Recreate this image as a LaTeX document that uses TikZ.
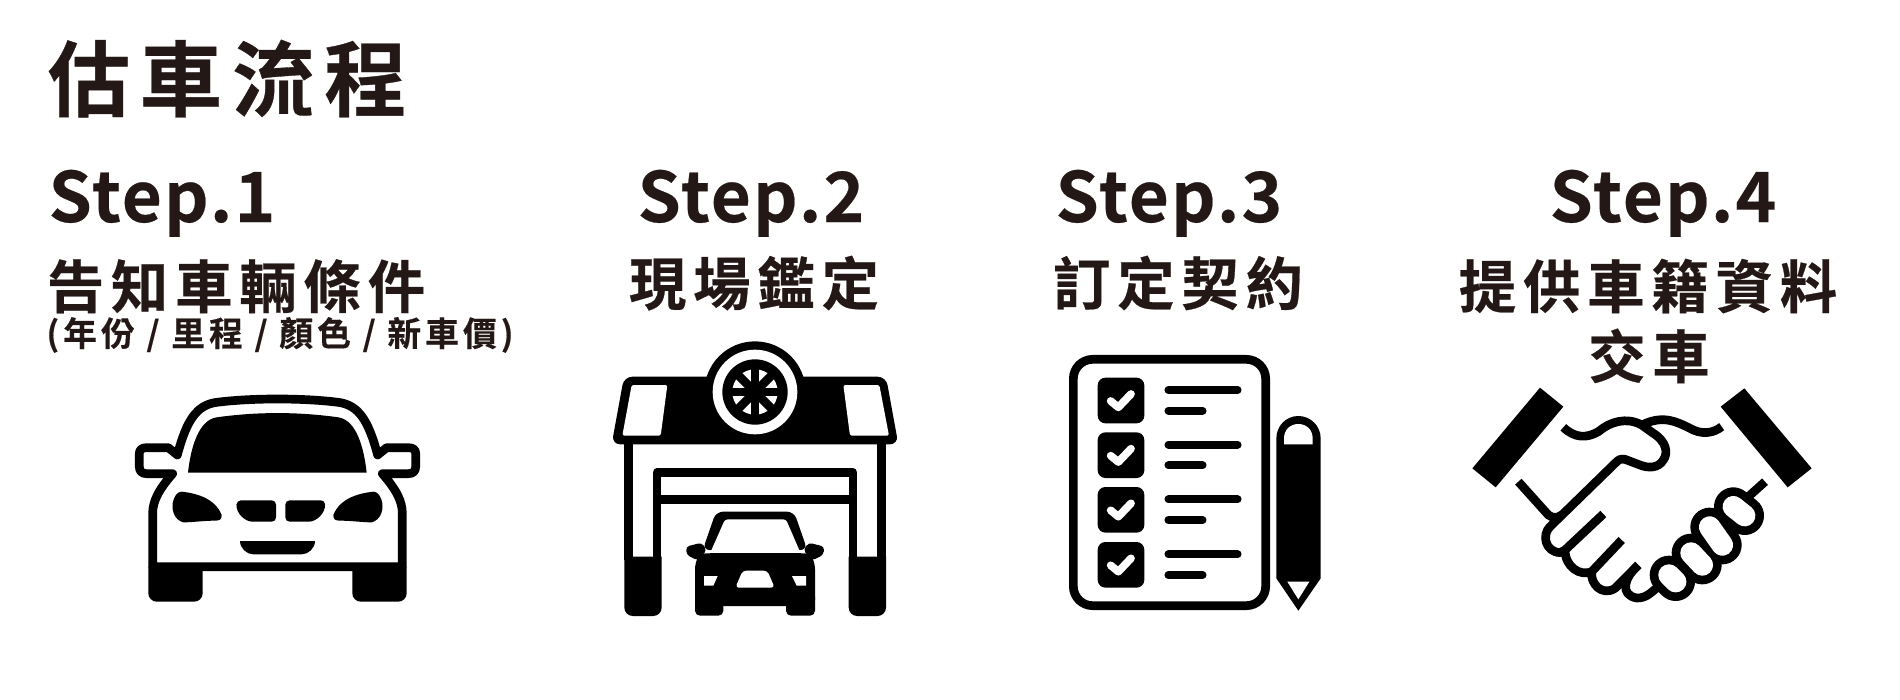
\documentclass[tikz,border=0pt]{standalone}
\usepackage{fontspec}
\usetikzlibrary{positioning}
\newfontfamily\cjkfont[LetterSpace=12,FakeBold=0.4]{Noto Sans CJK TC Bold}
\newfontfamily\latinfont[LetterSpace=3,FakeBold=0.3]{Noto Sans CJK TC Bold}
\definecolor{TextInk}{HTML}{231815}
\tikzset{
    titletext/.style={inner sep=0, anchor=base west, text=TextInk, font=\cjkfont\fontsize{23.4}{26}\selectfont},
    steptext/.style={inner sep=0, anchor=base, text=TextInk, font=\latinfont\fontsize{19.7}{24}\selectfont},
    subtext/.style={inner sep=0, anchor=base, text=TextInk, font=\cjkfont\fontsize{16.3}{18}\selectfont},
    notetext/.style={inner sep=0, anchor=base, text=TextInk, font=\cjkfont\fontsize{9.6}{11}\selectfont},
    iconline/.style={line width=2.47pt, line join=round, line cap=round}
}
\begin{document}
\begin{tikzpicture}[x=0.01cm, y=-0.01cm]
    \useasboundingbox (0,0) rectangle (1900,700);
    % headings
    \node[titletext] (title) at (47,110) {估車流程};
    \node[steptext] (step1) at (162,222) {Step.1};
    \node[steptext] (step2) at (751,222) {Step.2};
    \node[steptext] (step3) at (1169,222) {Step.3};
    \node[steptext] (step4) at (1663,222) {Step.4};
    \node[subtext] (sub1) at (236,308) {告知車輛條件};
    \node[subtext] (sub2) at (754,305) {現場鑑定};
    \node[subtext] (sub3) at (1178,305) {訂定契約};
    \node[subtext] (sub4) at (1648,308) {提供車籍資料};
    \node[subtext] (sub4b) at (1649,378) {交車};
    \node[notetext] (note1) at (280,346) {(年份 / 里程 / 顏色 / 新車價)};

    % car
    \begin{scope}[shift={(100,370)}, scale=1/3]
        \draw[iconline] (532,87) .. controls (450,87) and (390,92) .. (350,97)
            .. controls (290,105) and (260,150) .. (232,255) -- (205,233) -- (140,233)
            .. controls (125,233) and (118,240) .. (118,250) -- (118,290)
            .. controls (118,303) and (125,311) .. (140,311) -- (218,311)
            .. controls (175,360) and (158,395) .. (158,430) -- (158,590) -- (907,590) -- (907,430)
            .. controls (907,395) and (890,360) .. (847,311) -- (925,311)
            .. controls (940,311) and (947,303) .. (947,290) -- (947,250)
            .. controls (947,240) and (940,233) .. (925,233) -- (860,233) -- (833,255)
            .. controls (805,150) and (775,105) .. (715,97)
            .. controls (675,92) and (615,87) .. (532,87) -- cycle;
        \fill[rounded corners=2.4pt] (308,590) -- (308,695) -- (145,695) -- (145,590);
        \fill[rounded corners=2.4pt] (920,590) -- (920,695) -- (757,695) -- (757,590);
        \fill (264,308) .. controls (272,235) and (295,150) .. (350,142)
            .. controls (470,125) and (595,125) .. (715,142)
            .. controls (770,150) and (792,235) .. (800,308) -- cycle;
        \fill (245,365) .. controls (290,370) and (345,385) .. (365,435)
            .. controls (365,448) and (360,452) .. (345,452)
            .. controls (310,452) and (280,457) .. (250,457)
            .. controls (225,450) and (215,425) .. (218,400)
            .. controls (222,378) and (232,365) .. (245,365) -- cycle;
        \fill (820,365) .. controls (775,370) and (720,385) .. (700,435)
            .. controls (700,448) and (705,452) .. (720,452)
            .. controls (755,452) and (785,457) .. (815,457)
            .. controls (840,450) and (850,425) .. (847,400)
            .. controls (843,378) and (833,365) .. (820,365) -- cycle;
        \fill[rounded corners=1.2pt] (528,391) -- (528,455) -- (470,455)
            .. controls (435,455) and (408,430) .. (410,391) -- cycle;
        \fill[rounded corners=1.2pt] (556,391) -- (556,455) -- (614,455)
            .. controls (649,455) and (676,430) .. (675,391) -- cycle;
        \fill (420,513) -- (645,513) .. controls (645,535) and (625,553) .. (605,553)
            -- (460,553) .. controls (440,553) and (420,535) .. (420,513) -- cycle;
    \end{scope}

    % garage
    \begin{scope}[shift={(590,330)}, scale=1/3]
        \fill[rounded corners=2.4pt] (102,140) -- (888,140) -- (925,343) -- (65,343) -- cycle;
        \fill[white, rounded corners=0.6pt] (125,165) -- (232,165) -- (212,317) -- (97,317) -- cycle;
        \fill[white, rounded corners=0.6pt] (760,165) -- (868,165) -- (897,317) -- (780,317) -- cycle;
        \fill (495,186) circle (152);
        \fill[white] (495,186) circle (127);
        \fill (495,186) circle (98);
        \fill[white] (495,186) circle (68);
        \begin{scope}[shift={(495,186)}]
            \foreach \a in {0,45,90,135}
                \draw[line width=2.5pt] (\a:80) -- (\a+180:80);
            \fill (0,0) circle (30);
        \end{scope}
        % pillars and door
        \draw[iconline, line cap=butt] (116,343) -- (116,690);
        \draw[iconline, line cap=butt] (875,343) -- (875,690);
        \fill[rounded corners=2.4pt] (215,680) -- (215,858) -- (103,858) -- (103,680);
        \fill[rounded corners=2.4pt] (888,680) -- (888,858) -- (776,858) -- (776,680);
        \draw[iconline, line cap=butt] (201,690) -- (201,428) -- (789,428) -- (789,690);
        \draw[iconline, line cap=butt] (201,508) -- (789,508);
        % small car
        \fill[rounded corners=2pt] (378,545) -- (612,545) -- (652,660) -- (338,660) -- cycle;
        \fill[white, rounded corners=0.8pt] (405,568) -- (588,568) -- (632,670) -- (360,670) -- cycle;
        \fill[rounded corners=1.6pt] (330,670) -- (660,670) -- (675,700) -- (675,828) -- (315,828) -- (315,700) -- cycle;
        \fill (360,670) -- (632,670) -- (632,690) -- (360,690) -- cycle;
        \fill[rounded corners=1.4pt] (400,800) -- (400,857) -- (315,857) -- (315,800);
        \fill[rounded corners=1.4pt] (675,800) -- (675,857) -- (588,857) -- (588,800);
        \fill[rounded corners=1pt] (288,650) -- (335,638) -- (350,660) -- (325,692) -- (290,675) -- cycle;
        \fill[rounded corners=1pt] (703,650) -- (656,638) -- (640,660) -- (665,692) -- (700,675) -- cycle;
        \fill[white] (342,738) -- (383,738) -- (370,767) -- (342,767) -- cycle;
        \fill[white] (606,738) -- (648,738) -- (648,767) -- (620,767) -- cycle;
        \fill[white, rounded corners=1pt] (458,722) -- (532,722) -- (554,773) -- (436,773) -- cycle;
    \end{scope}

    % checklist and pencil
    \begin{scope}[shift={(1050,340)}, scale=1/3]
        \draw[iconline, rounded corners=5.5pt] (70,58) rectangle (647,797);
        \foreach \dy in {0,164,328,493} {
            \fill[rounded corners=2.2pt] (143,113+\dy) rectangle (283,250+\dy);
            \draw[white, line width=2.2pt, line cap=round, line join=round]
                (182,183+\dy) -- (205,202+\dy) -- (243,162+\dy);
            \draw[iconline, line width=2.2pt] (355,150+\dy) -- (563,150+\dy);
            \draw[iconline, line width=2.2pt] (355,212+\dy) -- (458,212+\dy);
        }
        \fill (679,715) -- (679,295) .. controls (679,258) and (708,228) .. (745,228)
            .. controls (782,228) and (812,258) .. (812,295) -- (812,715) -- (745,812) -- cycle;
        \fill[white] (702,313) -- (702,295) .. controls (702,270) and (720,252) .. (745,252)
            .. controls (770,252) and (788,270) .. (788,295) -- (788,313) -- cycle;
        \fill[white] (712,725) -- (778,725) -- (745,778) -- cycle;
    \end{scope}

    % handshake
    \begin{scope}[shift={(1450,370)}, scale=1/3]
        \fill (270,53) -- (340,110) -- (137,352) -- (67,295) -- cycle;
        \fill (883,55) -- (1085,295) -- (1013,352) -- (812,110) -- cycle;
        \begin{scope}[iconline, line cap=butt]
            \draw (340,172) .. controls (375,205) and (410,205) .. (445,185)
                .. controls (480,155) and (530,140) .. (575,165) -- (610,190)
                .. controls (650,215) and (655,250) .. (640,270)
                .. controls (625,295) and (595,295) .. (570,285) -- (525,268)
                .. controls (510,265) and (505,270) .. (495,280) -- (300,470)
                .. controls (275,495) and (285,545) .. (330,548) -- (345,540) -- (460,432);
            \draw (205,335) -- (295,435) .. controls (310,445) and (320,445) .. (335,435);
            \draw (345,540) .. controls (345,590) and (390,620) .. (425,605) -- (515,510);
            \draw (425,605) .. controls (420,640) and (455,680) .. (495,655) -- (565,585);
            \draw (565,585) .. controls (520,625) and (510,675) .. (560,684)
                .. controls (590,685) and (605,665) .. (625,650);
            \draw (580,163) .. controls (640,135) and (680,155) .. (720,175)
                .. controls (755,195) and (790,190) .. (815,170);
            \draw (945,335) -- (895,380);
        \end{scope}
        \foreach \xa/\ya/\xb/\yb in {850/410/884/437, 779/471/817/525, 723/549/757/585, 657/615/677/635}
            \draw[line width=11pt, line cap=round] (\xa,\ya) -- (\xb,\yb);
        \foreach \xa/\ya/\xb/\yb in {850/410/884/437, 779/471/817/525, 723/549/757/585, 657/615/677/635}
            \draw[white, line width=6.1pt, line cap=round] (\xa,\ya) -- (\xb,\yb);
    \end{scope}
\end{tikzpicture}
\end{document}
